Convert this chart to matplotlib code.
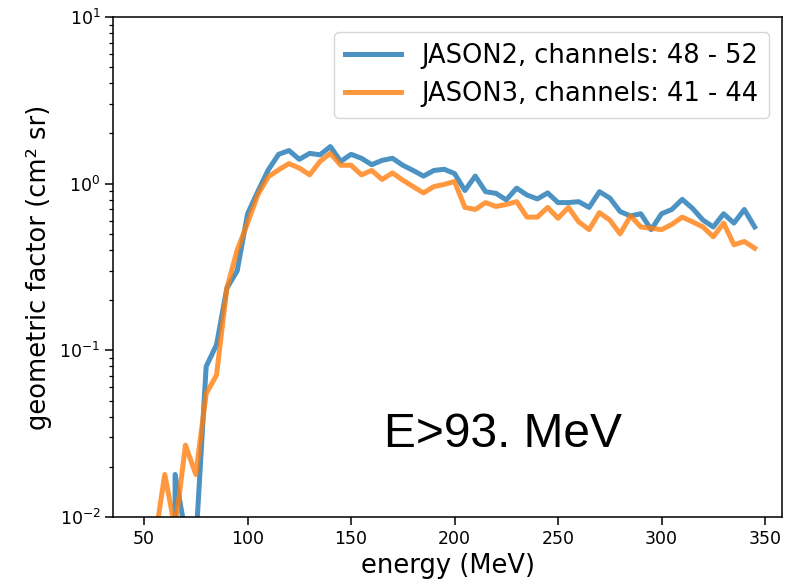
import numpy as np
import matplotlib
matplotlib.use("Agg")
import matplotlib.pyplot as plt

# energia (MeV), pasos de 5 MeV
energy = [50, 55, 60, 65, 70, 75, 80, 85, 90, 95,
          100, 105, 110, 115, 120, 125, 130, 135, 140, 145,
          150, 155, 160, 165, 170, 175, 180, 185, 190, 195,
          200, 205, 210, 215, 220, 225, 230, 235, 240, 245,
          250, 255, 260, 265, 270, 275, 280, 285, 290, 295,
          300, 305, 310, 315, 320, 325, 330, 335, 340, 345]

# factor geometrico JASON2, canales 48 - 52
gf_jason2 = [0, 0, 0, 0.018, 0.008, 0.007, 0.08, 0.108, 0.236, 0.30,
             0.66, 0.90, 1.21, 1.50, 1.58, 1.40, 1.52, 1.49, 1.67, 1.36,
             1.50, 1.42, 1.30, 1.38, 1.42, 1.29, 1.20, 1.11, 1.20, 1.22,
             1.15, 0.91, 1.11, 0.895, 0.875, 0.80, 0.94, 0.855, 0.81, 0.88,
             0.77, 0.77, 0.78, 0.72, 0.895, 0.82, 0.68, 0.64, 0.66, 0.53,
             0.66, 0.70, 0.805, 0.71, 0.605, 0.55, 0.66, 0.58, 0.70, 0.55]

# factor geometrico JASON3, canales 41 - 44
gf_jason3 = [0, 0.007, 0.018, 0.0085, 0.027, 0.018, 0.055, 0.071, 0.236, 0.40,
             0.58, 0.86, 1.10, 1.21, 1.32, 1.24, 1.13, 1.36, 1.52, 1.29,
             1.29, 1.13, 1.20, 1.06, 1.16, 1.05, 0.96, 0.88, 0.96, 0.99,
             1.03, 0.72, 0.70, 0.77, 0.73, 0.75, 0.78, 0.63, 0.63, 0.72,
             0.62, 0.72, 0.59, 0.53, 0.67, 0.605, 0.50, 0.64, 0.55, 0.54,
             0.53, 0.57, 0.63, 0.59, 0.55, 0.48, 0.58, 0.43, 0.45, 0.41]

labels = ["JASON2, channels: 48 - 52", "JASON3, channels: 41 - 44"]
threshold_text = "E>93. MeV"

fig = plt.figure(figsize=(7.86, 5.84), dpi=100)
ax = fig.add_axes([0.1438, 0.1147, 0.8511, 0.8562])

ax.plot(energy, gf_jason2, color="tab:blue", alpha=0.8, linewidth=3.6, label=labels[0])
ax.plot(energy, gf_jason3, color="tab:orange", alpha=0.8, linewidth=3.6, label=labels[1])

ax.set_yscale("log")
ax.set_ylim(1e-2, 1e1)
ax.set_xlim(35, 358.2)
ax.set_xticks([50, 100, 150, 200, 250, 300, 350])

ax.tick_params(which="major", labelsize=12.5, length=5.5, width=1.1)
ax.tick_params(which="minor", length=3.2, width=0.9)
for s in ax.spines.values():
    s.set_linewidth(1.1)

ax.set_xlabel("energy (MeV)", fontsize=18.5)
ax.set_ylabel("geometric factor (cm² sr)", fontsize=18.5)
ax.yaxis.set_label_coords(-0.091, 0.5)

ax.legend(loc="upper right", fontsize=18.5, handlelength=2.2,
          bbox_to_anchor=(1.0, 0.995))

ax.text(0.405, 0.14, threshold_text, transform=ax.transAxes,
        fontsize=34.5, family="Liberation Sans", ha="left", va="baseline")

fig.savefig("out.png", dpi=100)
